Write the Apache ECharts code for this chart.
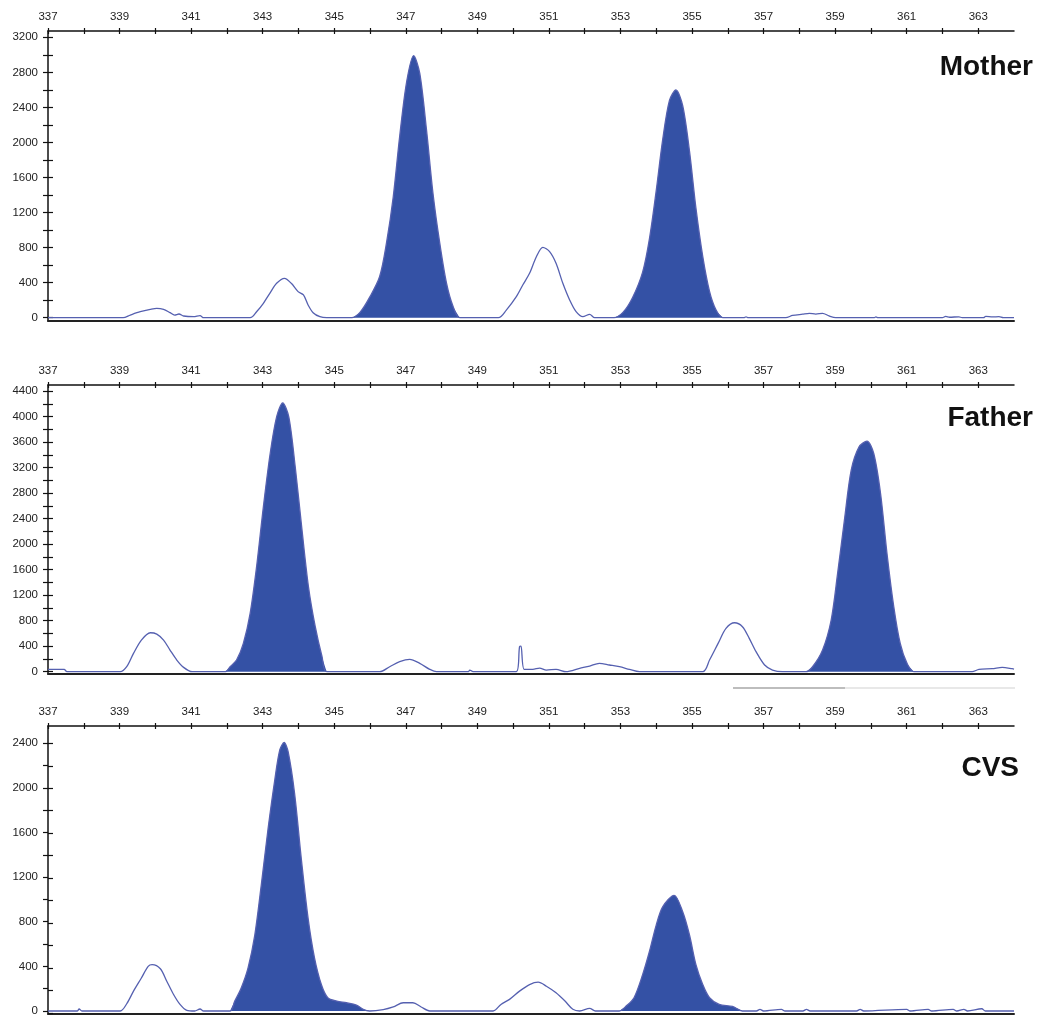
<!DOCTYPE html>
<html>
<head>
<meta charset="utf-8">
<script src="https://cdn.jsdelivr.net/npm/echarts@6/dist/echarts.min.js"></script>
<style>
html,body{margin:0;padding:0;background:#fff}
#chart{width:1037px;height:1017px}
</style>
</head>
<body>
<div id="chart"></div>
<script>
// fragment size axis (bp)
var xTickValues = [337,338,339,340,341,342,343,344,345,346,347,348,349,350,351,352,353,354,355,356,357,358,359,360,361,362,363];
var xLabelValues = [337,339,341,343,345,347,349,351,353,355,357,359,361,363];

// y ticks / labels per panel
var motherYTicks = [0,200,400,600,800,1000,1200,1400,1600,1800,2000,2200,2400,2600,2800,3000,3200];
var motherYLabels = [0,400,800,1200,1600,2000,2400,2800,3200];
var fatherYTicks = [0,200,400,600,800,1000,1200,1400,1600,1800,2000,2200,2400,2600,2800,3000,3200,3400,3600,3800,4000,4200,4400];
var fatherYLabels = [0,400,800,1200,1600,2000,2400,2800,3200,3600,4000,4400];
var cvsYTicks = [0,200,400,600,800,1000,1200,1400,1600,1800,2000,2200,2400];
var cvsYLabels = [0,400,800,1200,1600,2000,2400];

// electropherogram traces [size, rfu]
var motherTrace = [[337.0,0],[339.1,0],[339.3,30],[339.58,68],[339.86,95],[340.04,107],[340.23,95],[340.41,57],[340.54,30],[340.66,42],[340.79,19],[341.07,11],[341.25,23],[341.35,0],
  [342.65,0],[342.83,68],[343.02,164],[343.2,278],[343.39,392],[343.61,449],[343.8,392],[343.99,297],[344.14,259],[344.27,145],[344.41,57],[344.6,11],[344.79,0],
  [345.49,0],[345.72,60],[346.0,240],[346.27,470],[346.46,850],[346.65,1380],[346.83,2070],[347.02,2680],[347.22,2990],[347.39,2790],[347.58,2140],[347.76,1420],[347.95,850],[348.14,390],[348.32,130],[348.51,0],
  [349.59,0],[349.81,87],[350.09,240],[350.27,373],[350.46,506],[350.65,696],[350.83,803],[351.02,753],[351.2,620],[351.39,392],[351.58,202],[351.76,68],[351.95,11],[352.14,38],[352.28,0],
  [352.82,0],[353.07,60],[353.34,230],[353.62,520],[353.81,900],[354.0,1450],[354.18,2030],[354.37,2480],[354.55,2600],[354.74,2420],[354.93,1900],[355.11,1250],[355.3,700],[355.49,300],[355.67,90],[355.86,0],
  [356.45,0],[356.51,10],[356.57,0],[357.62,0],[357.81,25],[358.09,40],[358.28,50],[358.46,40],[358.65,50],[358.83,20],[359.02,0],[360.1,0],[360.14,8],[360.2,0],
  [362.0,0],[362.09,15],[362.2,5],[362.46,10],[362.55,0],[363.15,0],[363.21,15],[363.4,8],[363.58,12],[363.7,0],[364,0]];
var motherCalls = [[345.49,348.51],[352.82,355.86]];

var fatherTrace = [[337.0,37],[337.45,37],[337.53,0],[339.02,0],[339.2,78],[339.39,287],[339.61,496],[339.86,611],[340.04,590],[340.23,496],[340.41,340],[340.6,183],[340.79,68],[341.03,0],
  [341.96,0],[342.09,78],[342.27,183],[342.46,444],[342.65,915],[342.83,1646],[343.02,2587],[343.21,3423],[343.39,3998],[343.56,4217],[343.73,3998],[343.91,3214],[344.1,2221],[344.28,1333],[344.47,706],[344.66,235],[344.79,0],
  [346.27,0],[346.55,78],[346.83,157],[347.11,193],[347.39,131],[347.67,37],[347.86,0],[348.75,0],[348.79,26],[348.88,0],
  [350.09,0],[350.18,392],[350.22,402],[350.31,37],[350.55,37],[350.74,57],[350.93,26],[351.2,37],[351.48,0],[351.86,52],[352.14,89],[352.41,131],[352.69,105],[352.97,78],[353.25,37],[353.53,0],
  [355.3,0],[355.49,183],[355.73,444],[355.95,679],[356.19,768],[356.41,706],[356.6,523],[356.79,314],[357.03,105],[357.25,26],[357.53,0],
  [358.18,0],[358.37,78],[358.65,340],[358.89,810],[359.07,1542],[359.26,2378],[359.45,3162],[359.67,3528],[359.89,3616],[360.08,3423],[360.27,2796],[360.45,1855],[360.64,1019],[360.82,444],[361.01,131],[361.2,0],
  [362.83,0],[363.02,37],[363.39,47],[363.67,68],[363.95,47],[364,40]];
var fatherCalls = [[341.96,344.79],[358.18,361.2]];

var cvsTrace = [[337.0,0],[337.82,0],[337.87,18],[337.95,0],[339.02,0],[339.2,65],[339.39,178],[339.61,296],[339.8,400],[339.91,415],[340.14,379],[340.32,267],[340.51,148],[340.69,59],[340.88,6],[341.1,0],[341.25,18],[341.35,0],
  [342.09,0],[342.22,89],[342.4,207],[342.59,385],[342.78,681],[342.96,1126],[343.15,1630],[343.34,2074],[343.48,2341],[343.6,2406],[343.71,2326],[343.89,1956],[344.08,1363],[344.27,830],[344.45,474],[344.64,237],[344.82,119],[345.07,89],[345.34,74],[345.62,53],[345.81,15],[345.99,0],
  [346.37,12],[346.65,36],[346.93,74],[347.2,74],[347.43,36],[347.67,0],
  [349.44,0],[349.66,59],[349.9,104],[350.18,178],[350.46,237],[350.7,258],[350.93,222],[351.2,163],[351.45,89],[351.67,15],[351.86,0],[352.14,24],[352.3,0],
  [352.97,0],[353.16,44],[353.38,119],[353.62,326],[353.81,533],[354.0,770],[354.18,933],[354.5,1037],[354.74,889],[354.93,681],[355.11,415],[355.3,237],[355.49,119],[355.76,59],[356.13,41],[356.41,0],
  [356.8,0],[356.9,15],[357.0,0],[357.5,15],[357.6,0],[358.1,0],[358.2,15],[358.3,0],[359.6,0],[359.7,15],[359.8,0],[361.0,15],[361.1,0],[361.6,15],[361.7,0],
  [362.3,15],[362.4,0],[362.6,15],[362.7,0],[363.1,20],[363.2,0],[364,0]];
var cvsCalls = [[342.09,345.99],[352.97,356.41]];

var lineColor = '#5560b0';
var fillColor = '#3451a5';
var axisColor = '#111';
var labelFont = 'Liberation Sans';

var panels = [
    {name:'Mother', trace:motherTrace, calls:motherCalls, yTicks:motherYTicks, yLabels:motherYLabels, top:31, height:290, ymin:-38, ymax:3272, titleX:1033, titleY:67},
    {name:'Father', trace:fatherTrace, calls:fatherCalls, yTicks:fatherYTicks, yLabels:fatherYLabels, top:385, height:289, ymin:-36, ymax:4498, titleX:1033, titleY:418},
    {name:'CVS', trace:cvsTrace, calls:cvsCalls, yTicks:cvsYTicks, yLabels:cvsYLabels, top:726, height:290, ymin:-27, ymax:2554, titleX:1019, titleY:768}
];

function inCalls(x, calls){
    for(var i=0;i<calls.length;i++){
        if(x>=calls[i][0] && x<=calls[i][1]) return true;
    }
    return false;
}
function plain(v){ return String(v); }

var grids = [], twinGrids = [], xAxes = [], yAxes = [], xDup = [], yDup = [], series = [], graphics = [];
var n = panels.length;

panels.forEach(function(p, i){
    grids.push({left:48, width:966, top:p.top, height:p.height});
    // top axis with labels, ticks pointing up
    xAxes.push({
        type:'value', gridIndex:i, position:'top', min:337, max:364,
        axisLine:{show:true, onZero:false, lineStyle:{color:axisColor, width:1.5}},
        axisTick:{show:true, inside:false, length:3, customValues:xTickValues, lineStyle:{color:axisColor, width:1.2}},
        axisLabel:{show:true, customValues:xLabelValues, formatter:plain, margin:8, fontSize:11.5, color:'#222', fontFamily:labelFont},
        splitLine:{show:false}
    });
    // bottom frame line
    xAxes.push({
        type:'value', gridIndex:i, position:'bottom', min:337, max:364,
        axisLine:{show:true, onZero:false, lineStyle:{color:'#222', width:2}},
        axisTick:{show:false}, axisLabel:{show:false}, splitLine:{show:false}
    });
    yAxes.push({
        type:'value', gridIndex:i, position:'left', min:p.ymin, max:p.ymax,
        axisLine:{show:true, onZero:false, lineStyle:{color:axisColor, width:1.5}},
        axisTick:{show:true, inside:false, length:5, customValues:p.yTicks, lineStyle:{color:axisColor, width:1.2}},
        axisLabel:{show:true, customValues:p.yLabels, formatter:plain, margin:10, fontSize:11.5, color:'#222', fontFamily:labelFont},
        splitLine:{show:false}
    });

    // twin grid on the same spot, only for the inner half of the tick crosses
    twinGrids.push({left:48, width:966, top:p.top, height:p.height});
    xDup.push({
        type:'value', gridIndex:n+i, position:'top', min:337, max:364,
        axisLine:{show:false, onZero:false},
        axisTick:{show:true, inside:true, length:3, customValues:xTickValues, lineStyle:{color:axisColor, width:1.2}},
        axisLabel:{show:false}, splitLine:{show:false}
    });
    yDup.push({
        type:'value', gridIndex:n+i, position:'left', min:p.ymin, max:p.ymax,
        axisLine:{show:false, onZero:false},
        axisTick:{show:true, inside:true, length:5, customValues:p.yTicks, lineStyle:{color:axisColor, width:1.2}},
        axisLabel:{show:false}, splitLine:{show:false}
    });

    var fillData = p.trace.map(function(pt){
        return inCalls(pt[0], p.calls) ? pt : [pt[0], null];
    });
    series.push({
        type:'line', name:p.name+' called', xAxisIndex:2*i, yAxisIndex:i,
        data:fillData, symbol:'none', connectNulls:false, silent:true,
        smooth:0.3,
        lineStyle:{width:0}, areaStyle:{color:fillColor, opacity:1}, z:2
    });
    series.push({
        type:'line', name:p.name, xAxisIndex:2*i, yAxisIndex:i,
        data:p.trace, symbol:'none', clip:false, silent:true,
        smooth:0.3,
        lineStyle:{color:lineColor, width:1.3}, z:3
    });

    graphics.push({
        type:'text', x:p.titleX, y:p.titleY,
        style:{text:p.name, font:'bold 28px "Liberation Sans"', fill:'#111', align:'right', verticalAlign:'middle'}
    });
});

// scrollbar remnant under the Father panel
graphics.push({type:'rect', shape:{x:733, y:687, width:112, height:2}, style:{fill:'#bdbdbd'}});
graphics.push({type:'rect', shape:{x:845, y:687, width:170, height:2}, style:{fill:'#e8e8e8'}});

var chart = echarts.init(document.getElementById('chart'));
chart.setOption({
    animation:false,
    backgroundColor:'#fff',
    grid:grids.concat(twinGrids),
    xAxis:xAxes.concat(xDup),
    yAxis:yAxes.concat(yDup),
    series:series,
    graphic:graphics
});
</script>
</body>
</html>
